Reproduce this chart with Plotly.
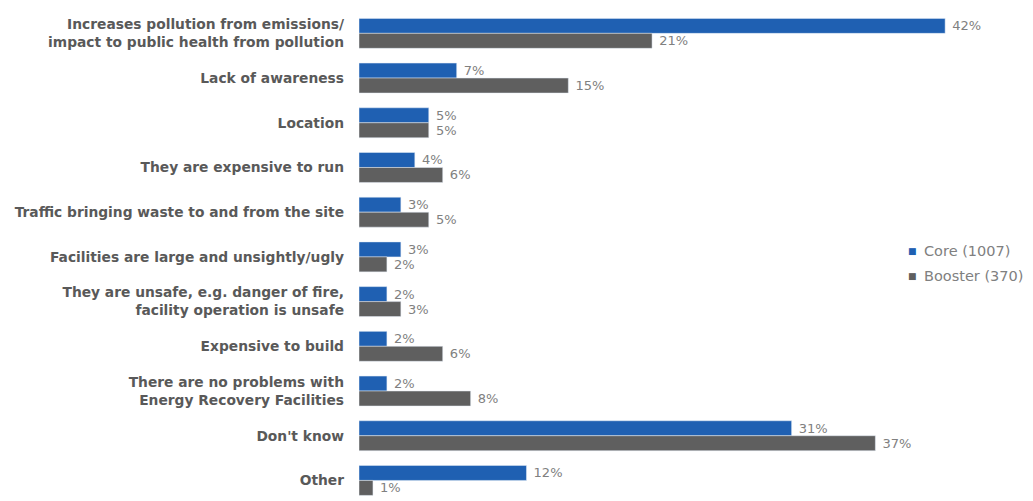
import plotly.graph_objects as go

categories = [
    "Increases pollution from emissions/<br>impact to public health from pollution",
    "Lack of awareness",
    "Location",
    "They are expensive to run",
    "Traffic bringing waste to and from the site",
    "Facilities are large and unsightly/ugly",
    "They are unsafe, e.g. danger of fire,<br>facility operation is unsafe",
    "Expensive to build",
    "There are no problems with<br>Energy Recovery Facilities",
    "Don't know",
    "Other",
]
core = [42, 7, 5, 4, 3, 3, 2, 2, 2, 31, 12]
booster = [21, 15, 5, 6, 5, 2, 3, 6, 8, 37, 1]
series_names = ["Core (1007)", "Booster (370)"]

BLUE = "#1F60B2"
GREY = "#5F5F5F"
label_font = dict(family="DejaVu Sans", size=13, color="#808080")

fig = go.Figure()
for name, vals, col in [(series_names[0], core, BLUE), (series_names[1], booster, GREY)]:
    fig.add_trace(go.Bar(
        y=categories, x=vals, orientation="h", name=name,
        marker_color=col, text=[f" {v}%" for v in vals],
        textposition="outside", cliponaxis=False, constraintext="none",
        textfont=label_font, showlegend=False,
    ))

# legend drawn as text with small square markers, like the original
for (name, col), ypos in zip([(series_names[0], BLUE), (series_names[1], GREY)], [0.510, 0.459]):
    fig.add_annotation(
        x=0.8806, y=ypos, xref="paper", yref="paper", xanchor="center", yanchor="middle",
        showarrow=False, text="■", font=dict(family="DejaVu Sans", size=9, color=col),
    )
    fig.add_annotation(
        x=0.8965, y=ypos, xref="paper", yref="paper", xanchor="left", yanchor="middle",
        showarrow=False, text=name,
        font=dict(family="DejaVu Sans", size=14.5, color="#808080"),
    )

# page body adds an 8px margin, so the figure is sized 8px smaller
fig.update_layout(
    width=1025, height=493,
    margin=dict(l=351, r=46, t=3, b=0, autoexpand=False),
    barmode="group", bargap=0.33, bargroupgap=0,
    plot_bgcolor="white", paper_bgcolor="white",
    showlegend=False,
)
fig.update_xaxes(visible=False, range=[0, 45])
fig.update_yaxes(
    range=[10.46, -0.5], showgrid=False, showline=False,
    ticks="", ticklabelstandoff=14, automargin=False,
    tickfont=dict(family="DejaVu Sans", size=13.8, color="#595959", weight="bold"),
)

fig.write_html("out.html")
